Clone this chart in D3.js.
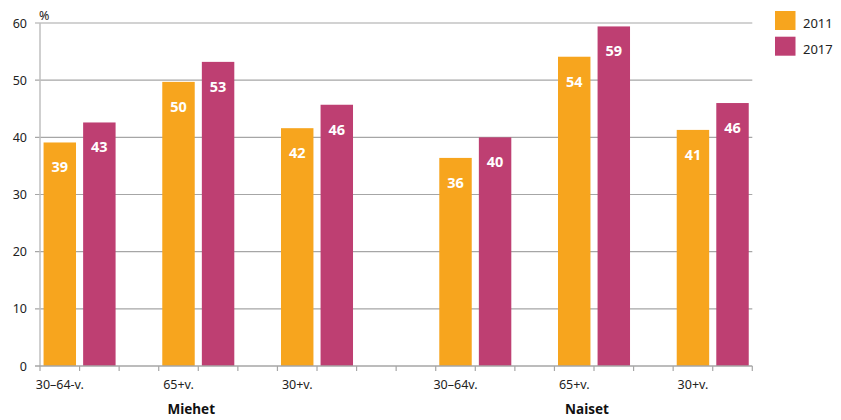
<!DOCTYPE html>
<html><head><meta charset="utf-8">
<script src="https://cdn.jsdelivr.net/npm/d3@7"></script>
<style>body{margin:0;background:#fff;} svg{display:block;font-family:"Noto Sans",sans-serif;}</style>
</head><body>
<svg id="c" width="841" height="420"></svg>
<script>
const categories = ["30–64-v.","65+v.","30+v.","30–64v.","65+v.","30+v."];
const groups = ["Miehet","Naiset"];
const series = ["2011","2017"];
const values2011 = [39.1, 49.7, 41.6, 36.4, 54.1, 41.3];
const values2017 = [42.6, 53.2, 45.7, 40.0, 59.4, 46.0];
const yTicks = [0,10,20,30,40,50,60];
const colors = ["#F7A51E","#BE3F72"];

(function(){
const svg = d3.select("#c");
const pL = 40, pR = 752.3, pT = 23, pB = 366;
const nSlots = 18;
const x = d3.scaleBand().domain(d3.range(nSlots)).range([pL,pR]).paddingInner(0.18).paddingOuter(0.09);
const step = (pR-pL)/nSlots;
const y = d3.scaleLinear().domain([0,60]).range([pB,pT]);

function slotOf(i){ const g = i<3?0:1; return g*9 + g + (i%3)*3; }

// gridlines
svg.append("g").selectAll("line").data(yTicks.filter(d=>d>0)).join("line")
  .attr("x1",35).attr("x2",pR).attr("y1",d=>y(d)).attr("y2",d=>y(d))
  .attr("stroke","#A6A6A6").attr("stroke-width",1.2);

// y labels
svg.append("g").selectAll("text").data(yTicks).join("text")
  .attr("x",27).attr("y",d=>y(d)+4.5).attr("text-anchor","end")
  .attr("font-size",12.5).attr("fill","#222").text(d=>d);
svg.append("text").attr("x",39).attr("y",20).attr("font-size",12.5).attr("fill","#222").text("%");

// bars
const bars = [];
categories.forEach((c,i)=>{
  bars.push({slot:slotOf(i), v:values2011[i], s:0});
  bars.push({slot:slotOf(i)+1, v:values2017[i], s:1});
});
svg.append("g").selectAll("rect").data(bars).join("rect")
  .attr("x",d=>x(d.slot)).attr("width",x.bandwidth())
  .attr("y",d=>y(d.v)).attr("height",d=>y(0)-y(d.v))
  .attr("fill",d=>colors[d.s]);
svg.append("g").selectAll("text").data(bars).join("text")
  .attr("x",d=>x(d.slot)+x.bandwidth()/2).attr("y",d=>y(d.v)+30)
  .attr("text-anchor","middle").attr("font-size",14.5).attr("font-weight","bold")
  .attr("fill","#fff").text(d=>Math.round(d.v));

// axes lines
svg.append("line").attr("x1",pL).attr("x2",pL).attr("y1",pT).attr("y2",pB)
  .attr("stroke","#BFBFBF").attr("stroke-width",1.5);
svg.append("line").attr("x1",35).attr("x2",pR).attr("y1",pB).attr("y2",pB)
  .attr("stroke","#A6A6A6").attr("stroke-width",1.5);
svg.append("g").selectAll("line").data(d3.range(nSlots+1)).join("line")
  .attr("x1",d=>pL+d*step).attr("x2",d=>pL+d*step).attr("y1",pB).attr("y2",pB+5)
  .attr("stroke","#A6A6A6").attr("stroke-width",1.2);

// category labels
svg.append("g").selectAll("text").data(categories).join("text")
  .attr("x",(d,i)=>pL+(slotOf(i)+0.5)*step).attr("y",389)
  .attr("text-anchor","middle").attr("font-size",12.5).attr("fill","#222").text(d=>d);
// group labels
svg.append("g").selectAll("text").data(groups).join("text")
  .attr("x",(d,g)=>pL+(g*10+4)*step-7).attr("y",414)
  .attr("text-anchor","middle").attr("font-size",13.5).attr("font-weight","bold").attr("fill","#111").text(d=>d);

// legend
const lg = svg.append("g").selectAll("g").data(series).join("g")
  .attr("transform",(d,i)=>`translate(775,${11+i*25.7})`);
lg.append("rect").attr("width",20.5).attr("height",19).attr("fill",(d,i)=>colors[i]);
lg.append("text").attr("x",28).attr("y",17.3).attr("font-size",13).attr("fill","#222").text(d=>d);
})();
</script>
</body></html>
